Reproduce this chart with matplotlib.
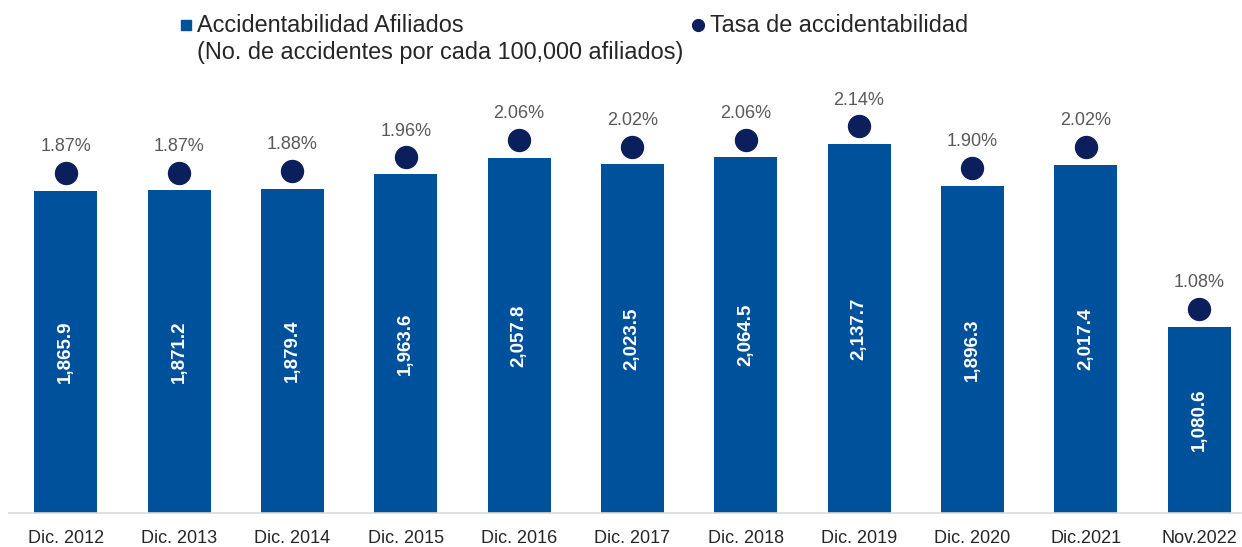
import matplotlib
matplotlib.use("Agg")

import matplotlib.pyplot as plt
from matplotlib.lines import Line2D

plt.rcParams['font.family'] = ['Liberation Sans', 'DejaVu Sans']

# data
periodos = ["Dic. 2012", "Dic. 2013", "Dic. 2014", "Dic. 2015", "Dic. 2016", "Dic. 2017",
            "Dic. 2018", "Dic. 2019", "Dic. 2020", "Dic.2021", "Nov.2022"]
accidentabilidad = [1865.9, 1871.2, 1879.4, 1963.6, 2057.8, 2023.5, 2064.5, 2137.7, 1896.3, 2017.4, 1080.6]
tasa = [1.87, 1.87, 1.88, 1.96, 2.06, 2.02, 2.06, 2.14, 1.90, 2.02, 1.08]

bar_color = "#00519C"
dot_color = "#0B1F5C"

fig = plt.figure(figsize=(12.42, 5.47), dpi=100)
ax = fig.add_axes([9 / 1242, 34 / 547, 1232 / 1242, 433 / 547])

x = range(len(periodos))
bars = ax.bar(x, accidentabilidad, width=0.556, color=bar_color, zorder=2)
ax.bar_label(bars, labels=[f"{v:,.1f}" for v in accidentabilidad], label_type="center",
             rotation=90, color="white", fontsize=13.5, fontweight="bold")

ytop = 2509
ax.set_ylim(0, ytop)
ax.set_xlim(-0.5, 10.37)
ax.set_yticks([])
ax.set_xticks(list(x))
ax.set_xticklabels(periodos, fontsize=13, color="#262626")
ax.tick_params(axis="x", length=0, pad=12)
for s in ["top", "right", "left"]:
    ax.spines[s].set_visible(False)
ax.spines["bottom"].set_color("#D9D9D9")
ax.spines["bottom"].set_linewidth(1.2)

# rate on a secondary scale, sitting just above the bars
ax2 = ax.twinx()
off = 100
ax2.set_ylim(-off / 1000, (ytop - off) / 1000)
ax2.scatter(x, tasa, s=250, color=dot_color, zorder=3)
for xi, t in zip(x, tasa):
    ax2.annotate(f"{t:.2f}%", (xi, t), xytext=(0, 19), textcoords="offset points",
                 ha="center", va="center", fontsize=13, color="#595959")
ax2.axis("off")

# legend drawn by hand
fs_leg = 16.9
fig.add_artist(Line2D([186 / 1242], [1 - 25 / 547], marker="s", markersize=7.5,
                      color=bar_color, linestyle="none", transform=fig.transFigure))
fig.text(197 / 1242, 1 - 25 / 547, "Accidentabilidad Afiliados", fontsize=fs_leg,
         color="#262626", va="center", ha="left")
fig.text(197 / 1242, 1 - 52 / 547, "(No. de accidentes por cada 100,000 afiliados)", fontsize=fs_leg,
         color="#262626", va="center", ha="left")
fig.add_artist(Line2D([698 / 1242], [1 - 25 / 547], marker="o", markersize=8.5,
                      color=dot_color, linestyle="none", transform=fig.transFigure))
fig.text(710 / 1242, 1 - 25 / 547, "Tasa de accidentabilidad", fontsize=fs_leg,
         color="#262626", va="center", ha="left")

plt.savefig("out.png", dpi=100)
